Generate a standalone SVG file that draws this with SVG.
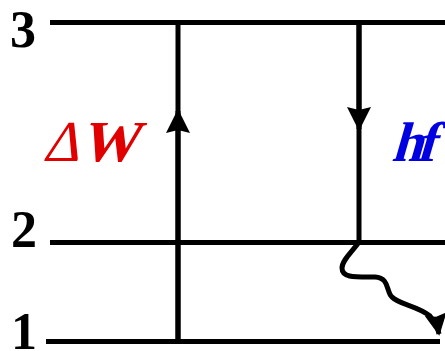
<svg xmlns="http://www.w3.org/2000/svg" width="445" height="351" viewBox="0 0 445 351">
<defs>
<style>
.lvl{stroke:#000;stroke-width:5;fill:none}
.num{font-family:"Liberation Serif","Times New Roman",serif;font-weight:bold;font-size:52px;fill:#000}
.dw{font-family:"Liberation Serif","Times New Roman",serif;font-weight:bold;font-size:58px;fill:#e00000}
.hf{font-family:"Liberation Serif","Times New Roman",serif;font-weight:bold;font-size:56px;fill:#0000e0;letter-spacing:-6px}
</style>
<marker id="ah" viewBox="0 0 24 24" refX="22" refY="12" markerWidth="24" markerHeight="24" markerUnits="userSpaceOnUse" orient="auto">
<path d="M0,0 L24,12 L0,24 L3,12 Z" fill="#000"/>
</marker>
<marker id="ah2" viewBox="0 0 24 24" refX="22" refY="12" markerWidth="22" markerHeight="22" markerUnits="userSpaceOnUse" orient="auto">
<path d="M0,0 L24,12 L0,24 L3,12 Z" fill="#000"/>
</marker>
</defs>
<g id="level3"><line class="lvl" x1="50" y1="22.5" x2="445" y2="22.5"/><text class="num" x="10" y="47">3</text></g>
<g id="level2"><line class="lvl" x1="50" y1="242.5" x2="445" y2="242.5"/><text class="num" x="11" y="247">2</text></g>
<g id="level1"><line class="lvl" x1="46" y1="341.5" x2="440" y2="341.5"/><text class="num" x="11" y="349">1</text></g>
<g id="connectors">
<line class="lvl" x1="178" y1="342" x2="178" y2="22"/>
<line class="lvl" x1="178" y1="342" x2="178" y2="111" marker-end="url(#ah)"/>
<line class="lvl" x1="359" y1="22" x2="359" y2="242"/>
<line class="lvl" x1="359" y1="22" x2="359" y2="129" marker-end="url(#ah)"/>
<path class="lvl" d="M359,242 C352,252 342,260 342,268 C342,278 355,277 375,277 C390,278 386,292 392,297 C398,304 418,306 430,316 C435,322 438,328 439,334" marker-end="url(#ah2)"/>
</g>
<g id="labelDW"><text class="dw" transform="translate(42,161) skewX(-16)"><tspan style="font-weight:normal">Δ</tspan>W</text></g>
<g id="labelHF"><text class="hf" transform="translate(391,161) skewX(-16)">hf</text></g>
</svg>
